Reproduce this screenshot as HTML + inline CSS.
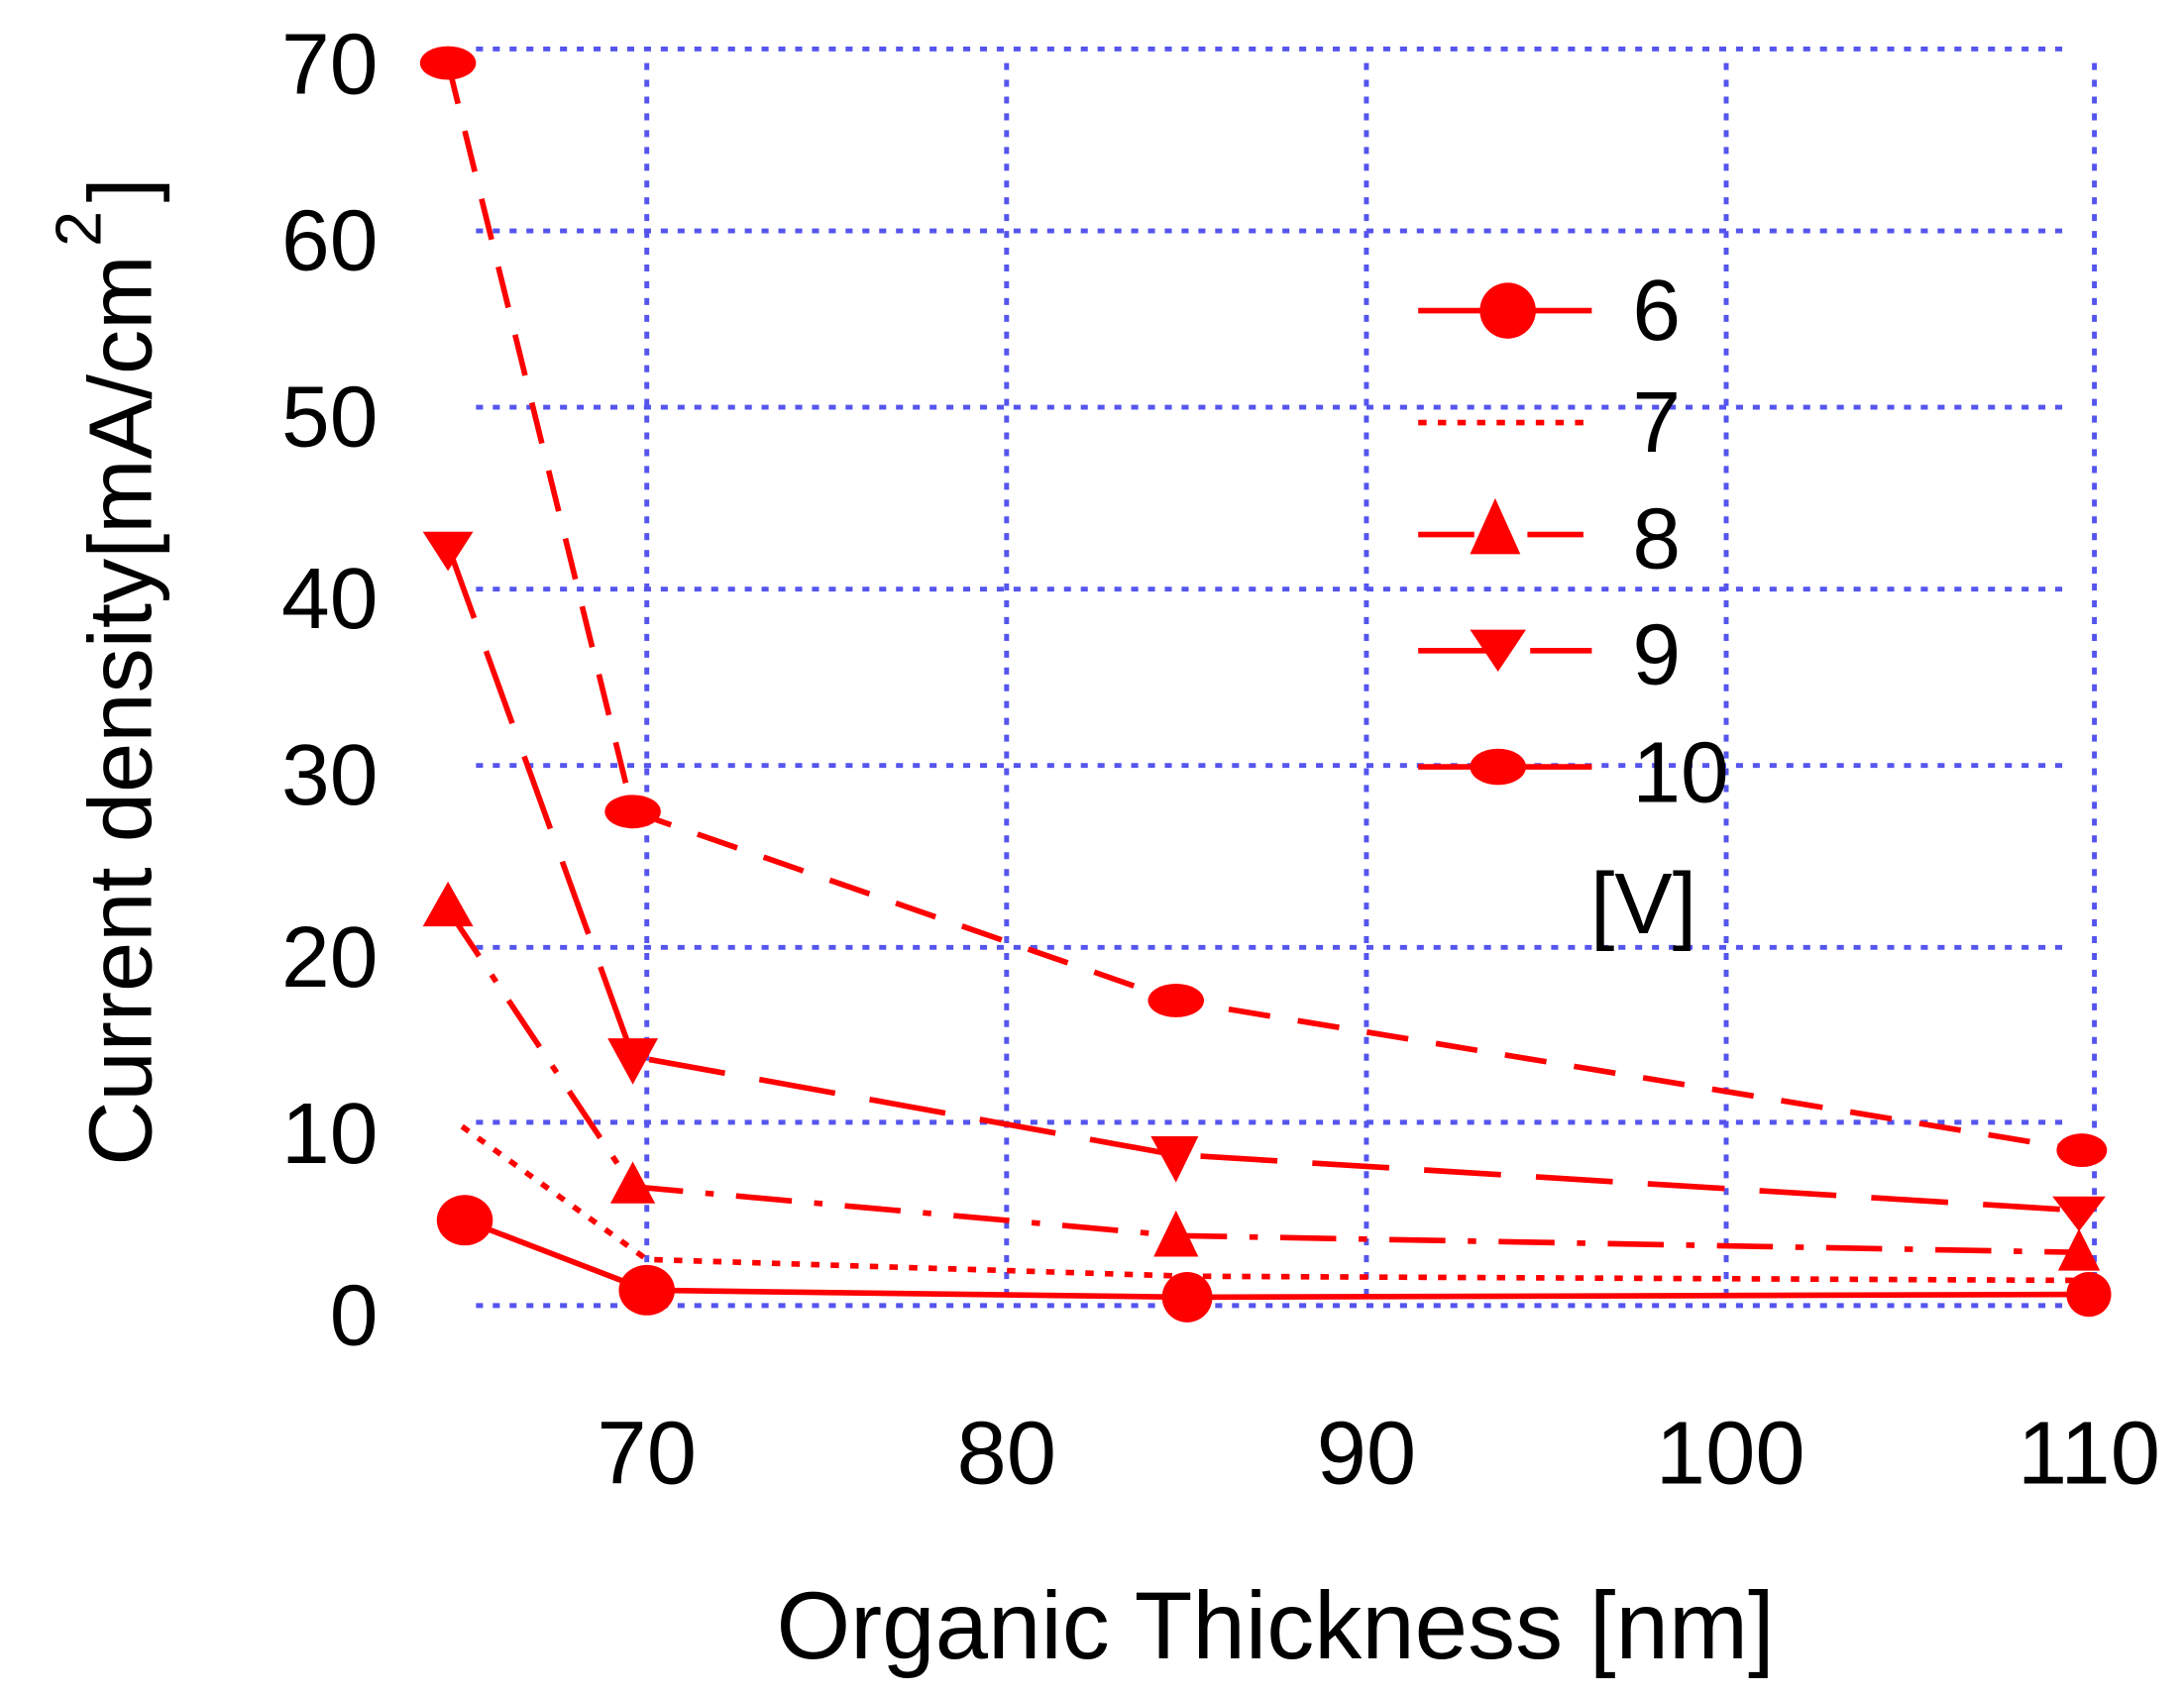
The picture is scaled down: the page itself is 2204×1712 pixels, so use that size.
<!DOCTYPE html>
<html><head><style>html,body{margin:0;padding:0;background:#fff;}svg{display:block}</style></head>
<body>
<svg width="2204" height="1712" viewBox="0 0 1560 1212" preserveAspectRatio="none" xmlns="http://www.w3.org/2000/svg" font-family="Liberation Sans, sans-serif">
<g stroke="#5555ee" stroke-width="3.5" stroke-dasharray="5,7" fill="none">
<line x1="340" y1="35" x2="1475" y2="35"/>
<line x1="340" y1="165" x2="1475" y2="165"/>
<line x1="340" y1="291" x2="1475" y2="291"/>
<line x1="340" y1="421" x2="1475" y2="421"/>
<line x1="340" y1="547" x2="1475" y2="547"/>
<line x1="340" y1="677" x2="1475" y2="677"/>
<line x1="340" y1="802" x2="1475" y2="802"/>
<line x1="340" y1="933" x2="1475" y2="933"/>
<line x1="462" y1="45" x2="462" y2="933"/>
<line x1="719" y1="45" x2="719" y2="933"/>
<line x1="976" y1="45" x2="976" y2="933"/>
<line x1="1233" y1="45" x2="1233" y2="933"/>
<line x1="1496" y1="45" x2="1496" y2="933"/>
</g>
<g font-size="62" fill="#000" text-anchor="end">
<text x="270" y="67">70</text><text x="270" y="193">60</text><text x="270" y="319">50</text>
<text x="270" y="449">40</text><text x="270" y="575">30</text><text x="270" y="705">20</text>
<text x="270" y="831">10</text><text x="270" y="961">0</text>
</g>
<g font-size="64" fill="#000" text-anchor="middle">
<text x="462" y="1060">70</text><text x="719" y="1060">80</text><text x="976" y="1060">90</text>
<text x="1236" y="1060">100</text><text x="1492" y="1060">110</text>
<text x="911" y="1185" font-size="68">Organic Thickness [nm]</text>
</g>
<text transform="translate(108,480) rotate(-90)" font-size="64" text-anchor="middle">Current density[mA/cm<tspan font-size="46" dy="-36" dx="6">2</tspan><tspan dy="36" dx="6">]</tspan></text>
<g stroke="#ff0000" stroke-width="4" fill="none">
<polyline points="332,872 462,922 848,927 1492,925"/>
<polyline points="330,805 462,900 848,912 1490,915" stroke-dasharray="6,8"/>
<polyline points="320,650 452,848 840,883 1485,895" stroke-dasharray="40,16,6,16"/>
<polyline points="320,390 452,755 838,825 1485,865" stroke-dasharray="55,25"/>
<polyline points="320,45 452,580 840,715 1487,822" stroke-dasharray="30,20"/>
<line x1="1013" y1="222" x2="1137" y2="222"/>
<line x1="1013" y1="302" x2="1137" y2="302" stroke-dasharray="6,8"/>
<line x1="1013" y1="382" x2="1137" y2="382" stroke-dasharray="40,16,6,16"/>
<line x1="1013" y1="465" x2="1137" y2="465" stroke-dasharray="55,25"/>
<line x1="1013" y1="548" x2="1137" y2="548"/>
</g>
<g fill="#ff0000">
<ellipse cx="332" cy="872" rx="20" ry="18"/><ellipse cx="462" cy="922" rx="20" ry="18"/><ellipse cx="848" cy="927" rx="18" ry="18"/><ellipse cx="1492" cy="925" rx="16" ry="16"/>
<polygon points="320,630 302,662 338,662"/><polygon points="452,830 436,860 468,860"/><polygon points="840,865 824,898 856,898"/><polygon points="1485,878 1470,908 1500,908"/>
<polygon points="302,380 338,380 320,408"/><polygon points="434,742 470,742 452,775"/><polygon points="822,812 856,812 840,845"/><polygon points="1466,855 1504,855 1485,880"/>
<ellipse cx="320" cy="45" rx="20" ry="12"/><ellipse cx="452" cy="580" rx="20" ry="12"/><ellipse cx="840" cy="715" rx="20" ry="12"/><ellipse cx="1487" cy="822" rx="18" ry="12"/>
<ellipse cx="1077" cy="222" rx="20" ry="20"/>
<polygon points="1068,356 1050,396 1086,396"/>
<polygon points="1050,450 1090,450 1070,480"/>
<ellipse cx="1070" cy="548" rx="20" ry="13"/>
</g>
<g font-size="62" fill="#000">
<text x="1166" y="243">6</text><text x="1166" y="323">7</text><text x="1166" y="406">8</text>
<text x="1166" y="489">9</text><text x="1166" y="573">10</text><text x="1136" y="667">[V]</text>
</g>
</svg>
</body></html>
